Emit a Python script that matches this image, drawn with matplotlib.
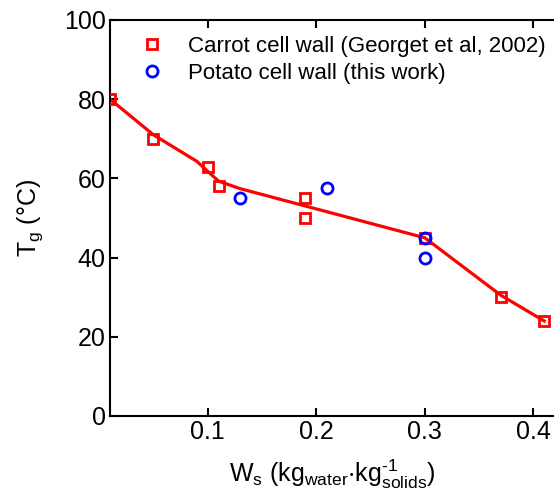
import matplotlib
matplotlib.use("Agg")
import matplotlib.pyplot as plt

plt.rcParams['font.family'] = ['Liberation Sans', 'DejaVu Sans']
plt.rcParams['mathtext.fontset'] = 'custom'
plt.rcParams['mathtext.rm'] = 'Liberation Sans'
plt.rcParams['mathtext.it'] = 'Liberation Sans'

# Carrot cell wall (Georget et al, 2002)
carrot_ws = [0.01, 0.05, 0.10, 0.11, 0.19, 0.19, 0.30, 0.37, 0.41]
carrot_tg = [80, 70, 63, 58, 55, 50, 45, 30, 24]

# Potato cell wall (this work)
potato_ws = [0.13, 0.21, 0.30, 0.30]
potato_tg = [55, 57.5, 45, 40]

# fitted line through carrot data
fit_ws = [0.01, 0.05, 0.09, 0.11, 0.13, 0.30, 0.37, 0.41]
fit_tg = [80, 71, 64.3, 59.3, 57.4, 45, 30.5, 24]

xticks = [0.1, 0.2, 0.3, 0.4]
yticks = [0, 20, 40, 60, 80, 100]

fig = plt.figure(figsize=(5.54, 4.97), dpi=100)
ax = fig.add_axes([0.1986, 0.163, 0.8032, 0.7968])

ax.plot(fit_ws, fit_tg, color='#ff0000', linewidth=2.3, zorder=2)
ax.plot(carrot_ws, carrot_tg, linestyle='none', marker='s', markersize=7.5,
        markerfacecolor='none', markeredgecolor='#ff0000', markeredgewidth=2,
        label='Carrot cell wall (Georget et al, 2002)', zorder=3)
ax.plot(potato_ws, potato_tg, linestyle='none', marker='o', markersize=8,
        markerfacecolor='none', markeredgecolor='#0000ff', markeredgewidth=2,
        label='Potato cell wall (this work)', zorder=3)

ax.set_xlim(0.01, 0.42)
ax.set_ylim(0, 100)
ax.set_xticks(xticks)
ax.set_xticklabels(['0.1', '0.2', '0.3', '0.4'])
ax.set_yticks(yticks)

ax.spines['right'].set_visible(False)
for s in ax.spines.values():
    s.set_linewidth(1.5)
ax.tick_params(direction='in', length=6, width=1.5, labelsize=18,
               top=True, right=False, pad=3)

ax.set_xlabel(r'$\mathregular{W_s\ (kg_{water}{\cdot}kg^{\text{-1}}_{solids})}$',
              fontsize=18, labelpad=10)
ax.set_ylabel(r'$\mathregular{T_g\ (°C)}$', fontsize=18, labelpad=14)

ax.legend(loc='upper left', bbox_to_anchor=(0.03, 1.0), frameon=False,
          fontsize=16, handletextpad=1.0, borderaxespad=0.3,
          labelspacing=0.3, handlelength=1.2)

fig.savefig('out.png', dpi=100)
